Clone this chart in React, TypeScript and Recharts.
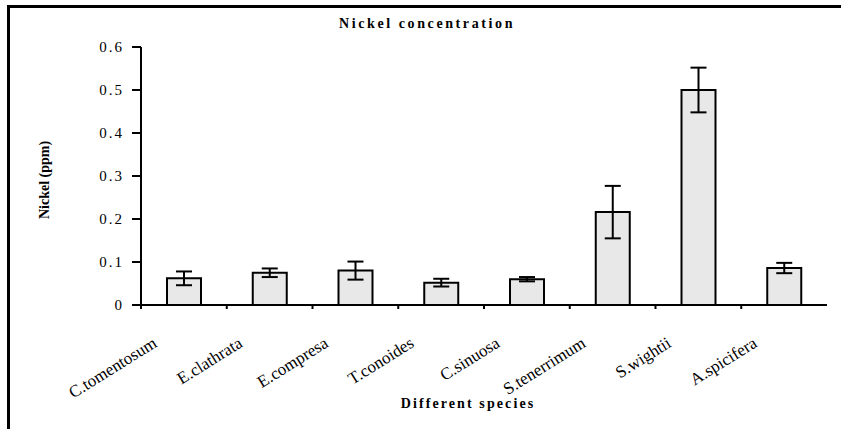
import { BarChart, Bar, XAxis, YAxis, ErrorBar } from 'recharts'

const species = [
  'C.tomentosum',
  'E.clathrata',
  'E.compresa',
  'T.conoides',
  'C.sinuosa',
  'S.tenerrimum',
  'S.wightii',
  'A.spicifera',
]
const nickel = [0.062, 0.075, 0.08, 0.052, 0.06, 0.216, 0.5, 0.086]
const nickelSd = [0.016, 0.01, 0.021, 0.009, 0.005, 0.061, 0.052, 0.012]
const yTicks = [0, 0.1, 0.2, 0.3, 0.4, 0.5, 0.6]

const data = species.map((name, i) => ({ name, nickel: nickel[i], sd: nickelSd[i] }))

const W = 841
const H = 429
const margin = { top: 47, right: 14, left: 81, bottom: 0 }
const yAxisWidth = 60
const band = (W - margin.left - yAxisWidth - margin.right) / species.length
const serif = '"Liberation Serif", "Times New Roman", serif'

function SpeciesTick({ x, y, payload }: any) {
  const tx = x - 26
  const ty = y + 41
  return (
    <g>
      <line x1={x - band / 2} x2={x - band / 2} y1={y} y2={y + 4} stroke="#000" strokeWidth={2} />
      <text
        x={tx}
        y={ty}
        transform={`rotate(-32, ${tx}, ${ty})`}
        textAnchor="end"
        fontFamily={serif}
        fontSize={17}
        fill="#000"
      >
        {payload.value}
      </text>
    </g>
  )
}

export default function App() {
  return (
    <div style={{ position: 'relative', width: W, height: H, background: '#fff', overflow: 'hidden' }}>
      <style>{'body{margin:0}'}</style>
      <div
        style={{
          position: 'absolute',
          left: 7,
          top: 5,
          width: W,
          height: H,
          borderTop: '3px solid #000',
          borderLeft: '3px solid #000',
        }}
      />
      <div
        style={{
          position: 'absolute',
          left: 427,
          top: 16,
          transform: 'translateX(-50%)',
          whiteSpace: 'nowrap',
          fontFamily: serif,
          fontWeight: 'bold',
          fontSize: 14,
          letterSpacing: 2.6,
        }}
      >
        Nickel concentration
      </div>
      <div
        style={{
          position: 'absolute',
          left: 45,
          top: 180,
          transform: 'translate(-50%, -50%) rotate(-90deg)',
          whiteSpace: 'nowrap',
          fontFamily: serif,
          fontWeight: 'bold',
          fontSize: 14,
        }}
      >
        Nickel (ppm)
      </div>
      <div
        style={{
          position: 'absolute',
          left: 468,
          top: 396,
          transform: 'translateX(-50%)',
          whiteSpace: 'nowrap',
          fontFamily: serif,
          fontWeight: 'bold',
          fontSize: 14,
          letterSpacing: 2.1,
        }}
      >
        Different species
      </div>
      <div style={{ position: 'absolute', left: 0, top: 0 }}>
        <BarChart width={W} height={H} data={data} margin={margin} barSize={34}>
          <XAxis
            dataKey="name"
            axisLine={{ stroke: '#000', strokeWidth: 2 }}
            tickLine={false}
            tickSize={0}
            tickMargin={0}
            interval={0}
            height={H - 305}
            tick={<SpeciesTick />}
          />
          <YAxis
            width={yAxisWidth}
            domain={[0, 0.6]}
            ticks={yTicks}
            interval={0}
            axisLine={{ stroke: '#000', strokeWidth: 2 }}
            tickLine={{ stroke: '#000', strokeWidth: 2 }}
            tickSize={9}
            tickMargin={8}
            tickFormatter={(v: number) => (v === 0 ? '0' : v.toFixed(1))}
            tick={{ fill: '#000', fontFamily: serif, fontSize: 15, letterSpacing: 2 }}
          />
          <Bar dataKey="nickel" fill="#e8e8e8" stroke="#000" strokeWidth={2} isAnimationActive={false}>
            <ErrorBar dataKey="sd" width={8} stroke="#000" strokeWidth={2} isAnimationActive={false} />
          </Bar>
        </BarChart>
      </div>
    </div>
  )
}
